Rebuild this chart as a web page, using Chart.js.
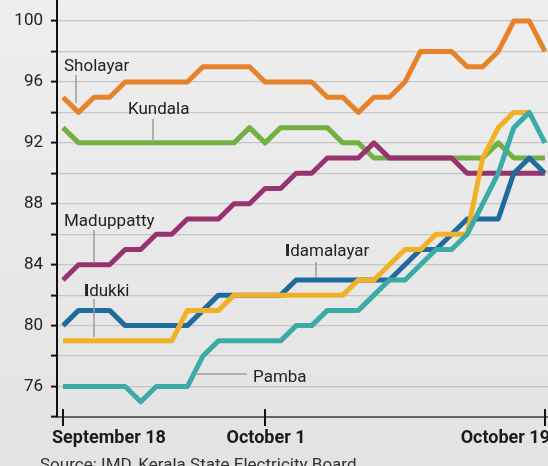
<!DOCTYPE html>
<html>
<head>
<meta charset="utf-8">
<script src="https://cdn.jsdelivr.net/npm/chart.js@4.4.0/dist/chart.umd.min.js"></script>
<style>
  html, body { margin: 0; padding: 0; }
  body { width: 548px; height: 466px; background: linear-gradient(#eeeeee, #e2e3e2); overflow: hidden; }
  #wrap { position: relative; width: 548px; height: 466px; }
  canvas { display: block; }
</style>
</head>
<body>
<div id="wrap"><canvas id="chart" width="548" height="466"></canvas></div>
<script>
// reservoir storage levels, Sept 18 - Oct 19
const days = [
  'Sep 18','Sep 19','Sep 20','Sep 21','Sep 22','Sep 23','Sep 24','Sep 25','Sep 26','Sep 27',
  'Sep 28','Sep 29','Sep 30','Oct 1','Oct 2','Oct 3','Oct 4','Oct 5','Oct 6','Oct 7',
  'Oct 8','Oct 9','Oct 10','Oct 11','Oct 12','Oct 13','Oct 14','Oct 15','Oct 16','Oct 17',
  'Oct 18','Oct 19'
];
const xTickIndex = [0, 13, 31];
const xTickLabels = ['September 18', 'October 1', 'October 19'];
const yTicks = [74, 76, 78, 80, 82, 84, 86, 88, 90, 92, 94, 96, 98, 100];
const yLabelled = [76, 80, 84, 88, 92, 96, 100];

const sholayar   = [95,94,95,95,96,96,96,96,96,97,97,97,97,96,96,96,96,95,95,94,95,95,96,98,98,98,97,97,98,100,100,98];
const kundala    = [93,92,92,92,92,92,92,92,92,92,92,92,93,92,93,93,93,93,92,92,91,91,91,91,91,91,91,91,92,91,91,91];
const maduppatty = [83,84,84,84,85,85,86,86,87,87,87,88,88,89,89,90,90,91,91,91,92,91,91,91,91,91,90,90,90,90,90,90];
const idamalayar = [80,81,81,81,80,80,80,80,80,81,82,82,82,82,82,83,83,83,83,83,83,83,84,85,85,86,87,87,87,90,91,90];
const idukki     = [79,79,79,79,79,79,79,79,81,81,81,82,82,82,82,82,82,82,82,83,83,84,85,85,86,86,86,91,93,94,94,null];
const pamba      = [76,76,76,76,76,75,76,76,76,78,79,79,79,79,79,80,80,81,81,81,82,83,83,84,85,85,86,88,90,93,94,92];

const toPoints = arr => arr.map((v, i) => ({ x: i, y: v }));

// first dataset is drawn on top
const series = [
  { name: 'Pamba',      data: pamba,      color: '#3caaa6' },
  { name: 'Idukki',     data: idukki,     color: '#f0b126' },
  { name: 'Idamalayar', data: idamalayar, color: '#1f6b9c' },
  { name: 'Maduppatty', data: maduppatty, color: '#97336d' },
  { name: 'Kundala',    data: kundala,    color: '#72b044' },
  { name: 'Sholayar',   data: sholayar,   color: '#e6832a' }
];

const FONT = 'Roboto, "Noto Sans", sans-serif';

// labels next to the lines, with their leader lines (pixel layout)
const notes = [
  { text: 'Sholayar',   x: 64,  y: 71,  line: [76, 75, 76, 103] },
  { text: 'Kundala',    x: 128, y: 114, line: [153, 119, 153, 142] },
  { text: 'Maduppatty', x: 64,  y: 226, line: [94, 230, 94, 263] },
  { text: 'Idukki',     x: 84,  y: 296, line: [94, 299, 94, 337], boldI: true },
  { text: 'Idamalayar', x: 285, y: 256, line: [316, 262, 316, 278], boldI: true },
  { text: 'Pamba',      x: 253, y: 382, line: [195, 374, 247, 374] }
];

const decor = {
  id: 'decor',
  afterDatasetsDraw(chart) {
    const ctx = chart.ctx;
    const xs = chart.scales.x;
    const area = chart.chartArea;
    ctx.save();

    // leader lines + labels
    ctx.strokeStyle = '#9c9c9c';
    ctx.lineWidth = 1.5;
    ctx.fillStyle = '#222';
    ctx.textBaseline = 'alphabetic';
    notes.forEach(n => {
      const [x1, y1, x2, y2] = n.line;
      ctx.beginPath();
      ctx.moveTo(x1, y1);
      ctx.lineTo(x2, y2);
      ctx.stroke();
      let x = n.x;
      let rest = n.text;
      if (n.boldI) {
        ctx.font = '900 17px ' + FONT;
        ctx.textAlign = 'left';
        ctx.fillText('I', x, n.y);
        x += ctx.measureText('I').width;
        rest = n.text.slice(1);
      }
      ctx.font = '17px ' + FONT;
      ctx.textAlign = 'left';
      ctx.fillText(rest, x, n.y);
    });

    // x tick marks crossing the axis
    ctx.strokeStyle = '#111';
    ctx.lineWidth = 2;
    xTickIndex.forEach(i => {
      const px = Math.round(xs.getPixelForValue(i));
      ctx.beginPath();
      ctx.moveTo(px, area.bottom - 8);
      ctx.lineTo(px, area.bottom + 9);
      ctx.stroke();
    });

    // x labels
    ctx.font = 'bold 18px ' + FONT;
    ctx.fillStyle = '#1a1a1a';
    xTickIndex.forEach((i, k) => {
      const px = xs.getPixelForValue(i);
      if (k === 0) {
        ctx.textAlign = 'left';
        ctx.fillText(xTickLabels[k], px - 11, 443);
      } else if (k === xTickIndex.length - 1) {
        ctx.textAlign = 'right';
        ctx.fillText(xTickLabels[k], 550, 443);
      } else {
        ctx.textAlign = 'center';
        ctx.fillText(xTickLabels[k], px + 1, 443);
      }
    });

    // source line (cut by the bottom edge)
    ctx.font = '17px ' + FONT;
    ctx.fillStyle = '#333';
    ctx.textAlign = 'left';
    ctx.fillText('Source: IMD, Kerala State Electricity Board', 40, 470);
    ctx.restore();
  }
};

new Chart(document.getElementById('chart'), {
  type: 'line',
  data: {
    labels: days,
    datasets: series.map(s => ({
      label: s.name,
      data: toPoints(s.data),
      borderColor: s.color,
      backgroundColor: s.color,
      borderWidth: 5,
      borderJoinStyle: 'round',
      pointRadius: 0,
      tension: 0,
      spanGaps: false
    }))
  },
  options: {
    responsive: false,
    animation: false,
    devicePixelRatio: 1,
    layout: { padding: 0 },
    plugins: { legend: { display: false }, tooltip: { enabled: false } },
    scales: {
      x: {
        type: 'linear',
        min: -0.386,
        max: 31.2,
        grid: { display: false },
        border: { display: true, color: '#666', width: 2 },
        ticks: { display: false },
        afterFit(scale) { scale.height = 49; }
      },
      y: {
        min: 74,
        max: 101.38,
        afterBuildTicks(scale) { scale.ticks = yTicks.map(v => ({ value: v })); },
        afterFit(scale) {
          scale.width = 57;
          scale.paddingTop = 0;
          scale.paddingBottom = 0;
        },
        grid: {
          color: ctx => ctx.tick && ctx.tick.value === 74 ? 'rgba(0,0,0,0)' : '#c6c6c6',
          lineWidth: 1.2,
          tickColor: '#111',
          tickLength: 6,
          tickWidth: 2
        },
        border: { display: true, color: '#111', width: 2 },
        ticks: {
          padding: 8,
          color: '#222',
          font: { family: 'Roboto', size: 17 },
          callback: v => yLabelled.includes(v) ? String(v) : ''
        }
      }
    }
  },
  plugins: [decor]
});
</script>
</body>
</html>
